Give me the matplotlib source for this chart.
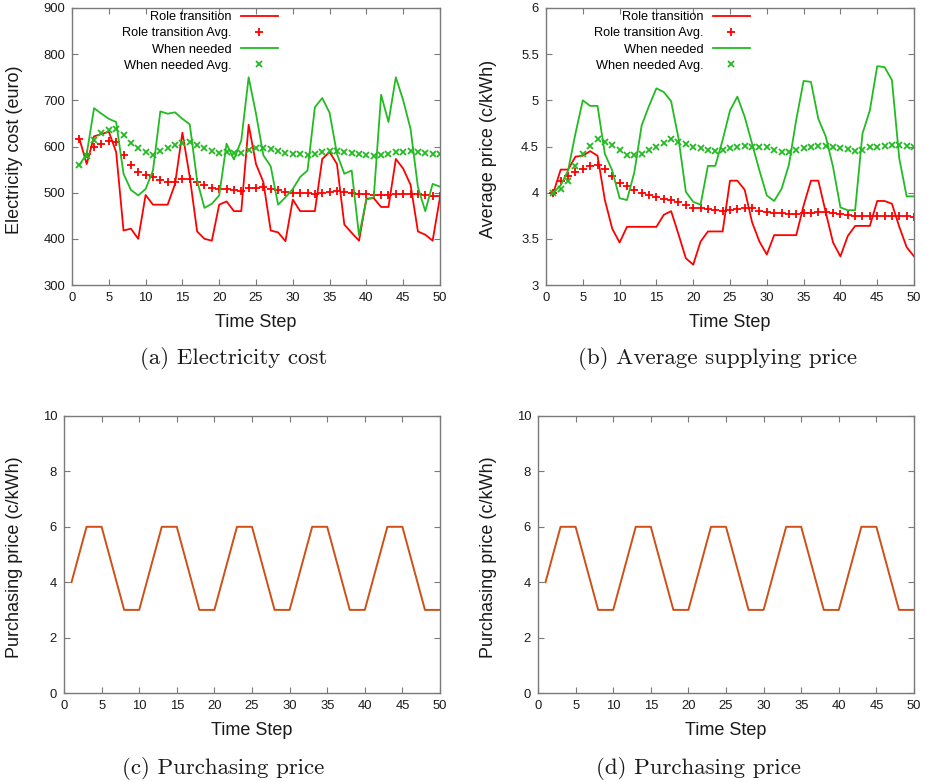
import matplotlib
matplotlib.use("Agg")
import matplotlib.pyplot as plt
from matplotlib.ticker import FuncFormatter, MultipleLocator

plt.rcParams['font.family'] = ['Liberation Sans', 'DejaVu Sans']

steps = list(range(1, 51))

cost_role = [617, 562, 622, 627, 632, 588, 418, 422, 400, 495,
             474, 474, 474, 519, 630, 534, 416, 400, 396, 474,
             481, 460, 460, 647, 562, 523, 418, 414, 395, 485,
             460, 460, 460, 573, 588, 562, 431, 413, 396, 487,
             488, 469, 469, 573, 552, 517, 416, 409, 396, 490]
cost_role_avg = [617, 584, 600, 606, 612, 609, 581, 561, 544, 539,
                 534, 528, 523, 523, 530, 530, 523, 517, 510, 507,
                 507, 505, 503, 510, 510, 512, 508, 505, 501, 500,
                 500, 500, 497, 499, 501, 503, 501, 499, 497, 497,
                 495, 495, 496, 497, 497, 497, 497, 496, 492, 492]
cost_need = [560, 584, 683, 671, 660, 653, 541, 506, 494, 508,
             548, 676, 671, 674, 660, 648, 526, 467, 476, 494,
             606, 572, 613, 750, 671, 581, 557, 474, 490, 508,
             534, 548, 685, 705, 673, 584, 541, 548, 407, 485,
             490, 712, 653, 750, 700, 638, 512, 460, 519, 513]
cost_need_avg = [560, 579, 614, 629, 635, 638, 624, 608, 596, 589,
                 582, 591, 597, 604, 608, 609, 604, 597, 591, 586,
                 588, 586, 586, 593, 596, 596, 595, 590, 586, 583,
                 583, 582, 584, 589, 591, 590, 588, 586, 583, 582,
                 579, 582, 583, 588, 589, 591, 589, 586, 584, 583]

price_role = [4.00, 4.25, 4.25, 4.39, 4.40, 4.45, 4.40, 3.92, 3.61, 3.46,
              3.63, 3.63, 3.63, 3.63, 3.63, 3.76, 3.80, 3.55, 3.29, 3.22,
              3.47, 3.58, 3.58, 3.58, 4.13, 4.13, 4.03, 3.68, 3.47, 3.33,
              3.54, 3.54, 3.54, 3.54, 3.86, 4.13, 4.13, 3.79, 3.46, 3.31,
              3.53, 3.64, 3.64, 3.64, 3.91, 3.91, 3.88, 3.63, 3.41, 3.31]
price_role_avg = [4.00, 4.13, 4.18, 4.22, 4.26, 4.29, 4.30, 4.26, 4.18, 4.11,
                  4.07, 4.03, 4.00, 3.98, 3.95, 3.93, 3.92, 3.90, 3.87, 3.83,
                  3.83, 3.82, 3.81, 3.80, 3.81, 3.82, 3.83, 3.83, 3.80, 3.79,
                  3.78, 3.78, 3.77, 3.77, 3.78, 3.78, 3.79, 3.79, 3.78, 3.77,
                  3.76, 3.75, 3.75, 3.75, 3.75, 3.75, 3.75, 3.75, 3.75, 3.74]
price_need = [4.00, 4.08, 4.24, 4.64, 5.00, 4.94, 4.94, 4.42, 4.24, 3.94,
              3.92, 4.22, 4.73, 4.94, 5.13, 5.09, 4.99, 4.59, 4.01, 3.90,
              3.87, 4.29, 4.29, 4.57, 4.89, 5.04, 4.82, 4.53, 4.24, 3.97,
              3.91, 4.04, 4.30, 4.79, 5.21, 5.20, 4.80, 4.61, 4.28, 3.84,
              3.81, 3.81, 4.64, 4.89, 5.37, 5.36, 5.22, 4.37, 3.96, 3.96]
price_need_avg = [4.00, 4.04, 4.13, 4.29, 4.42, 4.51, 4.58, 4.55, 4.52, 4.46,
                  4.41, 4.41, 4.42, 4.46, 4.50, 4.54, 4.58, 4.55, 4.53, 4.50,
                  4.48, 4.46, 4.45, 4.46, 4.48, 4.50, 4.51, 4.50, 4.49, 4.49,
                  4.46, 4.44, 4.44, 4.46, 4.48, 4.50, 4.51, 4.51, 4.50, 4.48,
                  4.47, 4.45, 4.46, 4.49, 4.50, 4.51, 4.52, 4.52, 4.51, 4.50]

purchase = [4, 5, 6, 6, 6, 5, 4, 3, 3, 3,
            4, 5, 6, 6, 6, 5, 4, 3, 3, 3,
            4, 5, 6, 6, 6, 5, 4, 3, 3, 3,
            4, 5, 6, 6, 6, 5, 4, 3, 3, 3,
            4, 5, 6, 6, 6, 5, 4, 3, 3, 3]

legend_labels = ["Role transition", "Role transition Avg.", "When needed", "When needed Avg."]
captions = ["(a) Electricity cost", "(b) Average supplying price",
            "(c) Purchasing price", "(d) Purchasing price"]
ylabels = ["Electricity cost (euro)", "Average price (c/kWh)",
           "Purchasing price (c/kWh)", "Purchasing price (c/kWh)"]
xlabel = "Time Step"

RED = "#ff0000"
GREEN = "#22bb22"
BROWN = "#cf5016"
SPINE = "#7a7a7a"
TXT = "#1a1a1a"

W, H = 928, 782
fig = plt.figure(figsize=(W / 100, H / 100), dpi=100)


def px_axes(left, right, top, bottom):
    return fig.add_axes([left / W, (H - bottom) / H, (right - left) / W, (bottom - top) / H])


fmt = FuncFormatter(lambda v, p: ("%g" % v))


def style(ax, ylo, yhi, ystep, ylabel, left_px, width_px):
    ax.set_xlim(0, 50)
    ax.set_ylim(ylo, yhi)
    ax.xaxis.set_major_locator(MultipleLocator(5))
    ax.yaxis.set_major_locator(MultipleLocator(ystep))
    ax.yaxis.set_major_formatter(fmt)
    ax.tick_params(direction="in", length=4, width=0.8, color=SPINE,
                   top=True, right=True, labelsize=9.4, labelcolor=TXT, pad=5)
    for s in ax.spines.values():
        s.set_color(SPINE)
        s.set_linewidth(1.0)
    ax.set_xlabel(xlabel, fontsize=13, color=TXT)
    ax.xaxis.set_label_coords(0.5, -0.105)
    ax.set_ylabel(ylabel, fontsize=13, color=TXT)
    ax.yaxis.label.set_va("center")
    ax.yaxis.set_label_coords((14.5 - left_px) / width_px, 0.49)


def top_panel(ax, role, role_avg, need, need_avg, leg_x):
    l1, = ax.plot(steps, role, color=RED, lw=1.3)
    l2, = ax.plot(steps, role_avg, ls="none", marker="+", ms=5.5, mew=1.3, color=RED)
    l3, = ax.plot(steps, need, color=GREEN, lw=1.3)
    l4, = ax.plot(steps, need_avg, ls="none", marker="x", ms=4.2, mew=1.3, color=GREEN)
    ax.legend([l1, l2, l3, l4], legend_labels, loc="upper right",
              bbox_to_anchor=(leg_x, 1.0), frameon=False, markerfirst=False,
              fontsize=9.2, handlelength=2.9, handletextpad=0.7,
              labelspacing=0.33, borderaxespad=0.0, borderpad=0.25, numpoints=1)


ax_a = px_axes(72, 440, 8, 285)
top_panel(ax_a, cost_role, cost_role_avg, cost_need, cost_need_avg, 0.568)
style(ax_a, 300, 900, 100, ylabels[0], 72, 368)

ax_b = px_axes(546, 914, 8, 285)
top_panel(ax_b, price_role, price_role_avg, price_need, price_need_avg, 0.5625)
style(ax_b, 3, 6, 0.5, ylabels[1], 546 - 474, 368)

ax_c = px_axes(64, 440, 416, 693)
ax_c.plot(steps, purchase, color=BROWN, lw=1.4)
style(ax_c, 0, 10, 2, ylabels[2], 64, 376)

ax_d = px_axes(538, 914, 416, 693)
ax_d.plot(steps, purchase, color=BROWN, lw=1.4)
style(ax_d, 0, 10, 2, ylabels[3], 538 - 474, 376)

cap_pos = [(234, 358), (717, 358), (223, 768), (698, 768)]
for text, (cx, cy) in zip(captions, cap_pos):
    fig.text(cx / W, (H - cy) / H, text, ha="center", va="center",
             fontsize=16.5, family="cmr10", color=TXT)

fig.savefig("out.png", dpi=100)
